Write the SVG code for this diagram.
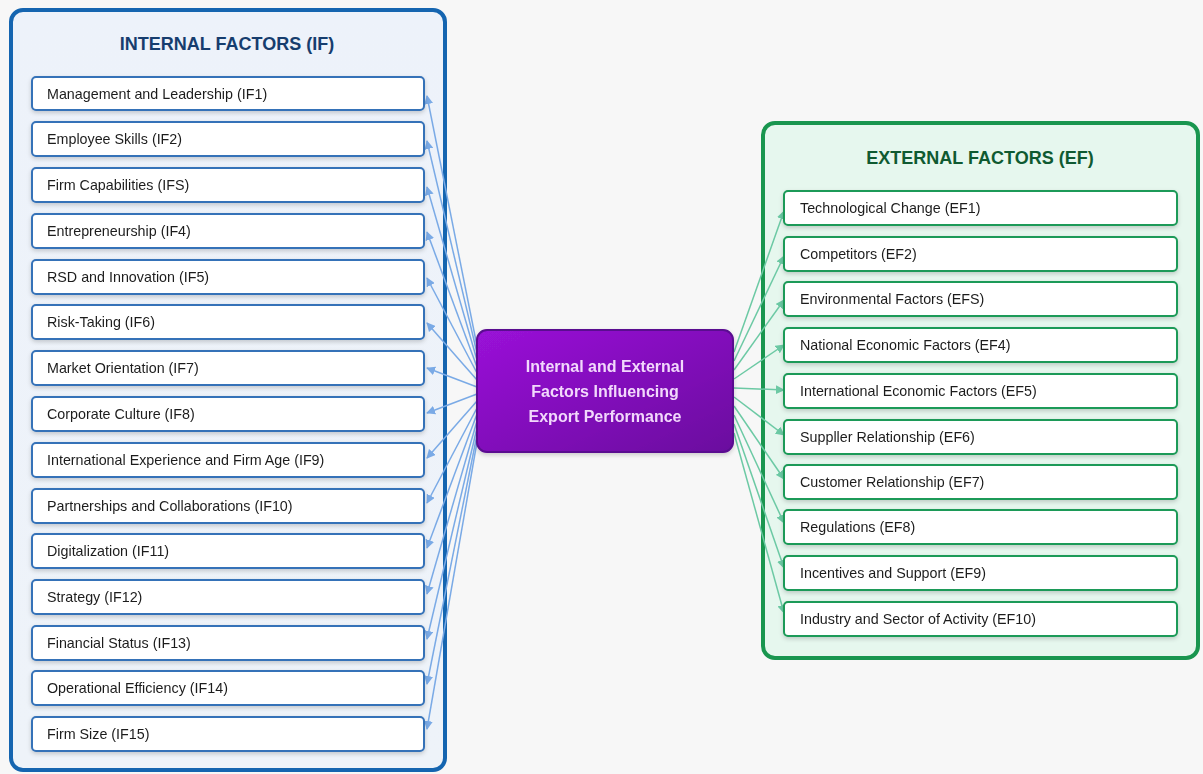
<svg xmlns="http://www.w3.org/2000/svg" width="1203" height="774" viewBox="0 0 1203 774">
<defs>
<linearGradient id="gp" x1="0" y1="0" x2="1" y2="1">
<stop offset="0" stop-color="#9a12d8"/>
<stop offset="1" stop-color="#6a0a9e"/>
</linearGradient>
<linearGradient id="gl" x1="0" y1="0" x2="0" y2="1">
<stop offset="0" stop-color="#edf2fa"/>
<stop offset="1" stop-color="#eef3f9"/>
</linearGradient>
<filter id="sh" x="-10%" y="-10%" width="120%" height="130%">
<feDropShadow dx="0" dy="2" stdDeviation="2" flood-color="#000" flood-opacity="0.18"/>
</filter>
<marker id="ab" viewBox="0 0 10 10" refX="9" refY="5" markerWidth="9" markerHeight="9" orient="auto" markerUnits="userSpaceOnUse">
<path d="M0,0 L10,5 L0,10 z" fill="#7aaae6"/>
</marker>
<marker id="ag" viewBox="0 0 10 10" refX="9" refY="5" markerWidth="9" markerHeight="9" orient="auto" markerUnits="userSpaceOnUse">
<path d="M0,0 L10,5 L0,10 z" fill="#6cc9a4"/>
</marker>
</defs>
<style>
.t{font-family:"Liberation Sans",Arial,sans-serif;font-size:14.3px;fill:#1d1d1d}
.ib rect{fill:#fff;stroke:#3672b8;stroke-width:2}
.eb rect{fill:#fff;stroke:#1c9a58;stroke-width:2}
.lc line{stroke:#7aaae6;stroke-width:1.5;marker-end:url(#ab)}
.rc line{stroke:#6cc9a4;stroke-width:1.5;marker-end:url(#ag)}
.h{font-family:"Liberation Sans",Arial,sans-serif;font-size:18px;font-weight:bold;text-anchor:middle}
</style>
<rect width="1203" height="774" fill="#f7f7f7"/>
<g id="internal">
<rect x="11" y="10" width="434" height="760" rx="12" fill="url(#gl)" stroke="#1565b0" stroke-width="4"/>
<text class="h" x="227" y="50" fill="#163d6e">INTERNAL FACTORS (IF)</text>
</g>
<g id="external">
<rect x="763" y="123" width="435" height="535" rx="12" fill="#e6f7ee" stroke="#19964f" stroke-width="4"/>
<text class="h" x="980" y="164" fill="#0f5a31">EXTERNAL FACTORS (EF)</text>
</g>
<g id="connectors">
<g class="lc">
<line x1="477" y1="346" x2="427" y2="96"/>
<line x1="477" y1="353" x2="427" y2="141"/>
<line x1="477" y1="360" x2="427" y2="187"/>
<line x1="477" y1="367" x2="427" y2="232"/>
<line x1="477" y1="373" x2="427" y2="278"/>
<line x1="477" y1="380" x2="427" y2="323"/>
<line x1="477" y1="387" x2="427" y2="368"/>
<line x1="477" y1="394" x2="427" y2="413"/>
<line x1="477" y1="401" x2="427" y2="458"/>
<line x1="477" y1="408" x2="427" y2="503"/>
<line x1="477" y1="414" x2="427" y2="548"/>
<line x1="477" y1="421" x2="427" y2="594"/>
<line x1="477" y1="428" x2="427" y2="639"/>
<line x1="477" y1="435" x2="427" y2="684"/>
<line x1="477" y1="442" x2="427" y2="729"/>
</g>
<g class="rc">
<line x1="734" y1="352" x2="784" y2="211"/>
<line x1="734" y1="361" x2="784" y2="256"/>
<line x1="734" y1="370" x2="784" y2="300"/>
<line x1="734" y1="379" x2="784" y2="345"/>
<line x1="734" y1="388" x2="784" y2="390"/>
<line x1="734" y1="397" x2="784" y2="435"/>
<line x1="734" y1="406" x2="784" y2="479"/>
<line x1="734" y1="415" x2="784" y2="523"/>
<line x1="734" y1="424" x2="784" y2="568"/>
<line x1="734" y1="433" x2="784" y2="613"/>
</g>
</g>
<g id="center" filter="url(#sh)">
<rect x="477" y="330" width="256" height="122" rx="10" fill="url(#gp)" stroke="#5a0890" stroke-width="2"/>
<text x="605" y="372" text-anchor="middle" font-family="'Liberation Sans',Arial,sans-serif" font-size="16" font-weight="bold" fill="#f2d8fc">Internal and External</text>
<text x="605" y="397" text-anchor="middle" font-family="'Liberation Sans',Arial,sans-serif" font-size="16" font-weight="bold" fill="#f2d8fc">Factors Influencing</text>
<text x="605" y="422" text-anchor="middle" font-family="'Liberation Sans',Arial,sans-serif" font-size="16" font-weight="bold" fill="#f2d8fc">Export Performance</text>
</g>
<g id="IF1" class="ib" filter="url(#sh)"><rect x="32" y="77" width="392" height="33" rx="4"/><text class="t" x="47" y="99">Management and Leadership (IF1)</text></g>
<g id="IF2" class="ib" filter="url(#sh)"><rect x="32" y="122" width="392" height="34" rx="4"/><text class="t" x="47" y="144">Employee Skills (IF2)</text></g>
<g id="IF3" class="ib" filter="url(#sh)"><rect x="32" y="168" width="392" height="34" rx="4"/><text class="t" x="47" y="190">Firm Capabilities (IFS)</text></g>
<g id="IF4" class="ib" filter="url(#sh)"><rect x="32" y="214" width="392" height="34" rx="4"/><text class="t" x="47" y="236">Entrepreneurship (IF4)</text></g>
<g id="IF5" class="ib" filter="url(#sh)"><rect x="32" y="260" width="392" height="34" rx="4"/><text class="t" x="47" y="282">RSD and Innovation (IF5)</text></g>
<g id="IF6" class="ib" filter="url(#sh)"><rect x="32" y="305" width="392" height="34" rx="4"/><text class="t" x="47" y="327">Risk-Taking (IF6)</text></g>
<g id="IF7" class="ib" filter="url(#sh)"><rect x="32" y="351" width="392" height="34" rx="4"/><text class="t" x="47" y="373">Market Orientation (IF7)</text></g>
<g id="IF8" class="ib" filter="url(#sh)"><rect x="32" y="397" width="392" height="34" rx="4"/><text class="t" x="47" y="419">Corporate Culture (IF8)</text></g>
<g id="IF9" class="ib" filter="url(#sh)"><rect x="32" y="443" width="392" height="34" rx="4"/><text class="t" x="47" y="465">International Experience and Firm Age (IF9)</text></g>
<g id="IF10" class="ib" filter="url(#sh)"><rect x="32" y="489" width="392" height="34" rx="4"/><text class="t" x="47" y="511">Partnerships and Collaborations (IF10)</text></g>
<g id="IF11" class="ib" filter="url(#sh)"><rect x="32" y="534" width="392" height="34" rx="4"/><text class="t" x="47" y="556">Digitalization (IF11)</text></g>
<g id="IF12" class="ib" filter="url(#sh)"><rect x="32" y="580" width="392" height="34" rx="4"/><text class="t" x="47" y="602">Strategy (IF12)</text></g>
<g id="IF13" class="ib" filter="url(#sh)"><rect x="32" y="626" width="392" height="34" rx="4"/><text class="t" x="47" y="648">Financial Status (IF13)</text></g>
<g id="IF14" class="ib" filter="url(#sh)"><rect x="32" y="671" width="392" height="34" rx="4"/><text class="t" x="47" y="693">Operational Efficiency (IF14)</text></g>
<g id="IF15" class="ib" filter="url(#sh)"><rect x="32" y="717" width="392" height="34" rx="4"/><text class="t" x="47" y="739">Firm Size (IF15)</text></g>
<g id="EF1" class="eb" filter="url(#sh)"><rect x="784" y="191" width="393" height="34" rx="4"/><text class="t" x="800" y="213">Technological Change (EF1)</text></g>
<g id="EF2" class="eb" filter="url(#sh)"><rect x="784" y="237" width="393" height="34" rx="4"/><text class="t" x="800" y="259">Competitors (EF2)</text></g>
<g id="EF3" class="eb" filter="url(#sh)"><rect x="784" y="282" width="393" height="34" rx="4"/><text class="t" x="800" y="304">Environmental Factors (EFS)</text></g>
<g id="EF4" class="eb" filter="url(#sh)"><rect x="784" y="328" width="393" height="34" rx="4"/><text class="t" x="800" y="350">National Economic Factors (EF4)</text></g>
<g id="EF5" class="eb" filter="url(#sh)"><rect x="784" y="374" width="393" height="34" rx="4"/><text class="t" x="800" y="396">International Economic Factors (EF5)</text></g>
<g id="EF6" class="eb" filter="url(#sh)"><rect x="784" y="420" width="393" height="34" rx="4"/><text class="t" x="800" y="442">Suppller Relationship (EF6)</text></g>
<g id="EF7" class="eb" filter="url(#sh)"><rect x="784" y="465" width="393" height="34" rx="4"/><text class="t" x="800" y="487">Customer Relationship (EF7)</text></g>
<g id="EF8" class="eb" filter="url(#sh)"><rect x="784" y="510" width="393" height="34" rx="4"/><text class="t" x="800" y="532">Regulations (EF8)</text></g>
<g id="EF9" class="eb" filter="url(#sh)"><rect x="784" y="556" width="393" height="34" rx="4"/><text class="t" x="800" y="578">Incentives and Support (EF9)</text></g>
<g id="EF10" class="eb" filter="url(#sh)"><rect x="784" y="602" width="393" height="34" rx="4"/><text class="t" x="800" y="624">Industry and Sector of Activity (EF10)</text></g>
</svg>
